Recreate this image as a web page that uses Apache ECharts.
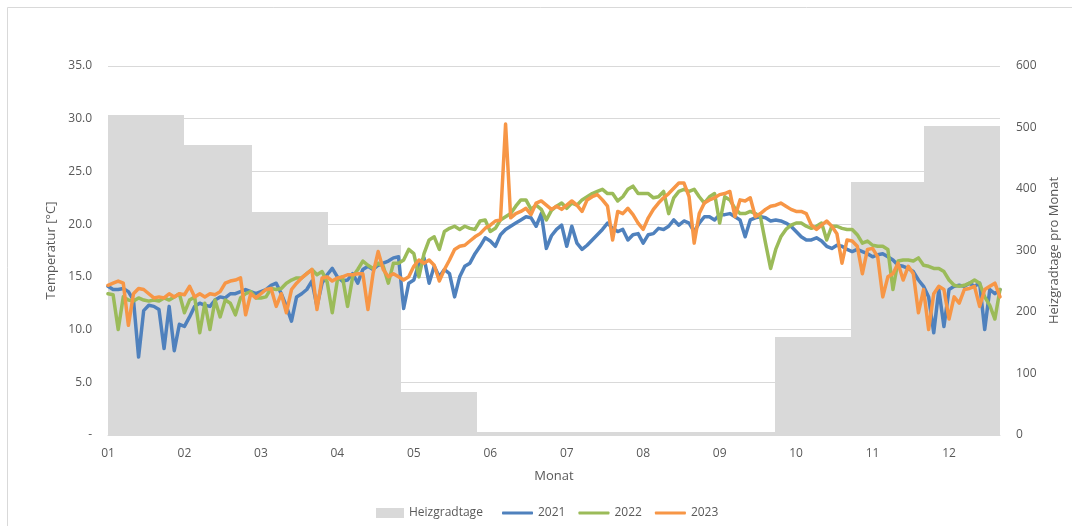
<!DOCTYPE html>
<html>
<head>
<meta charset="utf-8">
<script src="https://cdn.jsdelivr.net/npm/echarts@6/dist/echarts.min.js"></script>
<style>
html, body { margin: 0; padding: 0; background: #fff; }
#chart { width: 1072px; height: 526px; }
</style>
</head>
<body>
<div id="chart"></div>
<script>
// month labels and days per month (bars span their month on a day axis)
const months = ['01', '02', '03', '04', '05', '06', '07', '08', '09', '10', '11', '12']
const monthDays = [31, 28, 31, 30, 31, 30, 31, 31, 30, 31, 30, 31]
const heizgradtage = [520, 472, 363, 309, 70, 5, 5, 5, 5, 159, 411, 502]

// daily mean temperatures, one value every 2 days (15 per month)
const t2021 = [
  14.1, 13.8, 13.8, 13.9, 13.6, 12.8, 7.4, 11.8, 12.3, 12.2, 11.9, 8.2, 12.2, 8.0, 10.5,
  10.3, 11.2, 12.2, 12.5, 12.3, 12.2, 12.8, 13.1, 13.0, 13.4, 13.4, 13.6, 13.8, 13.6, 13.4,
  13.6, 13.8, 14.2, 14.4, 13.4, 12.2, 10.8, 13.1, 13.4, 13.8, 14.6, 12.2, 14.4, 15.2, 15.8,
  15.0, 14.6, 14.7, 15.3, 14.4, 15.7, 16.0, 15.7, 16.1, 16.3, 16.5, 16.8, 16.9, 12.0, 14.4,
  14.7, 16.3, 16.8, 14.4, 16.0, 15.0, 15.7, 15.3, 13.1, 15.0, 16.0, 16.3, 17.2, 17.9, 18.7,
  18.4, 17.9, 19.0, 19.5, 19.8, 20.1, 20.4, 20.7, 20.6, 19.8, 21.0, 17.7, 18.9, 19.5, 19.9,
  17.9, 19.8, 18.2, 17.6, 18.0, 18.5, 19.0, 19.5, 20.1, 19.6, 19.3, 19.5, 18.5, 19.0, 19.1,
  18.2, 19.0, 19.1, 19.6, 19.5, 19.8, 20.4, 19.9, 20.3, 20.1, 19.3, 20.1, 20.7, 20.7, 20.4,
  20.9, 20.9, 21.0, 20.7, 20.4, 18.8, 20.4, 20.6, 20.7, 20.6, 20.3, 20.4, 20.3, 20.1, 19.8,
  19.3, 18.8, 18.5, 18.5, 18.7, 18.4, 17.9, 17.7, 18.0, 17.9, 17.6, 17.4, 17.6, 17.4, 17.2,
  16.9, 17.1, 17.2, 16.9, 16.6, 16.1, 16.0, 15.8, 15.5, 14.7, 14.1, 13.1, 9.7, 13.8, 10.3,
  13.8, 14.1, 14.2, 14.1, 14.4, 14.1, 14.4, 10.0, 13.8, 13.4, 13.8
]
const t2022 = [
  13.4, 13.3, 10.0, 13.1, 12.8, 12.7, 13.0, 12.8, 12.7, 12.8, 12.7, 13.0, 12.8, 13.1, 13.4,
  11.6, 12.8, 13.1, 9.7, 12.5, 10.0, 12.8, 11.2, 12.8, 12.5, 11.4, 13.0, 13.4, 13.6, 13.0,
  13.0, 13.1, 13.9, 13.8, 13.9, 14.4, 14.7, 14.9, 14.9, 15.3, 15.7, 15.2, 15.5, 14.5, 11.6,
  14.7, 15.0, 12.2, 15.0, 15.7, 16.5, 16.1, 15.8, 16.3, 16.0, 14.4, 16.3, 16.3, 16.6, 17.6,
  17.2, 15.0, 17.2, 18.5, 18.8, 17.6, 19.3, 19.6, 19.8, 19.5, 19.8, 19.6, 19.5, 20.3, 20.4,
  19.3, 19.6, 20.4, 20.7, 21.0, 21.7, 22.3, 22.3, 21.4, 21.8, 21.4, 20.4, 21.3, 21.7, 22.0,
  21.5, 22.0, 21.8, 22.3, 22.6, 22.9, 23.1, 23.3, 22.9, 22.9, 22.2, 22.6, 23.3, 23.6, 22.9,
  22.9, 22.9, 22.5, 22.6, 23.1, 21.0, 22.5, 23.1, 23.3, 23.1, 23.3, 22.6, 22.0, 22.6, 22.9,
  20.1, 22.6, 22.3, 21.5, 21.0, 21.0, 21.2, 21.0, 20.7, 18.2, 15.8, 17.6, 18.8, 19.5, 19.9,
  20.1, 20.1, 19.8, 19.6, 19.8, 20.1, 18.5, 19.8, 19.8, 19.6, 19.5, 19.5, 19.0, 18.2, 18.4,
  18.0, 17.9, 17.9, 17.6, 13.8, 16.5, 16.6, 16.6, 16.5, 16.8, 16.1, 16.0, 15.8, 15.8, 15.5,
  14.7, 14.2, 14.1, 14.2, 14.4, 14.7, 14.4, 13.1, 12.3, 11.0, 13.8
]
const t2023 = [
  14.2, 14.4, 14.6, 14.4, 10.4, 13.4, 13.9, 13.8, 13.4, 13.0, 13.1, 13.0, 13.4, 13.1, 13.4,
  13.3, 14.1, 13.1, 13.4, 13.1, 13.4, 13.3, 13.6, 14.4, 14.6, 14.7, 14.9, 11.4, 13.4, 13.0,
  13.4, 13.8, 13.9, 12.2, 13.4, 11.6, 13.8, 14.4, 14.9, 15.3, 15.7, 11.9, 14.9, 15.0, 14.6,
  14.9, 15.0, 15.2, 15.2, 15.3, 15.3, 11.9, 15.3, 17.4, 15.7, 15.0, 15.3, 15.0, 14.7, 15.0,
  16.0, 16.6, 16.3, 16.6, 16.1, 14.6, 15.7, 16.6, 17.6, 17.9, 18.0, 18.4, 18.8, 19.1, 19.6,
  19.9, 20.3, 20.4, 29.5, 20.6, 21.0, 21.2, 21.5, 20.9, 22.0, 22.2, 21.8, 21.4, 21.7, 21.4,
  21.8, 22.2, 21.8, 21.2, 22.3, 22.6, 22.8, 22.3, 21.7, 18.5, 21.2, 21.0, 21.5, 20.9, 20.1,
  19.5, 20.6, 21.4, 22.0, 22.5, 22.9, 23.4, 23.9, 23.9, 22.6, 18.2, 21.0, 22.0, 22.3, 22.5,
  22.8, 22.9, 23.1, 20.7, 22.3, 22.2, 22.5, 20.7, 21.0, 21.4, 21.7, 21.8, 22.0, 21.7, 21.4,
  21.2, 21.2, 21.0, 19.9, 19.5, 19.9, 20.3, 19.8, 19.1, 16.3, 18.5, 18.4, 17.9, 15.3, 17.6,
  17.7, 16.9, 13.1, 15.0, 15.3, 16.3, 14.7, 16.0, 15.3, 11.6, 13.8, 10.0, 13.4, 14.1, 13.8,
  11.0, 13.1, 12.5, 13.8, 13.9, 14.1, 12.2, 13.8, 14.1, 14.4, 13.1
]

const step = 1 / 15
const toPoints = arr => arr.map((v, i) => [1 + i * step, v])

let dayStart = 0
const barData = heizgradtage.map((v, k) => {
  const row = [dayStart, dayStart + monthDays[k], v]
  dayStart += monthDays[k]
  return row
})

const textColor = '#595959'
const font = 'Open Sans'
const chart = echarts.init(document.getElementById('chart'), null, { renderer: 'canvas' })

chart.setOption({
  animation: false,
  backgroundColor: '#fff',
  textStyle: { fontFamily: font, color: textColor },
  graphic: [{
    type: 'rect',
    shape: { x: 7.5, y: 7.5, width: 1200, height: 700 },
    style: { fill: 'none', stroke: '#d9d9d9', lineWidth: 1 },
    silent: true,
  }],
  grid: { left: 108, right: 72, top: 66, bottom: 91 },
  legend: [{
    data: [{ name: 'Heizgradtage', icon: 'rect' }],
    left: 376,
    top: 507,
    padding: 0,
    itemWidth: 28,
    itemHeight: 10,
    textStyle: { fontFamily: font, fontSize: 12, color: textColor },
  }, {
    data: ['2021', '2022', '2023'],
    icon: 'roundRect',
    left: 502,
    top: 507,
    padding: 0,
    itemWidth: 31,
    itemHeight: 3,
    itemGap: 13,
    textStyle: { fontFamily: font, fontSize: 12, color: textColor },
  }],
  xAxis: [{
    type: 'value',
    min: 0,
    max: 365,
    position: 'top',
    show: false,
  }, {
    type: 'value',
    min: 1,
    max: 1 + (t2021.length - 1) * step,
    interval: 1,
    position: 'bottom',
    name: 'Monat',
    nameLocation: 'middle',
    nameGap: 35,
    nameTextStyle: { fontFamily: font, fontSize: 13, color: textColor },
    axisLine: { lineStyle: { color: '#d9d9d9' } },
    axisTick: { show: false },
    splitLine: { show: false },
    axisLabel: {
      margin: 13,
      fontFamily: font,
      fontSize: 12,
      color: textColor,
      showMaxLabel: false,
      formatter: v => Number.isInteger(v) ? months[v - 1] : '',
    },
  }],
  yAxis: [{
    type: 'value',
    min: 0,
    max: 35,
    interval: 5,
    name: 'Temperatur [°C]',
    nameLocation: 'middle',
    nameGap: 49,
    nameTextStyle: { fontFamily: font, fontSize: 13, color: textColor },
    axisLine: { show: false },
    axisTick: { show: false },
    splitLine: { lineStyle: { color: '#d9d9d9' } },
    axisLabel: {
      margin: 16,
      fontFamily: font,
      fontSize: 12,
      color: textColor,
      formatter: v => v === 0 ? '-' : v.toFixed(1),
    },
  }, {
    type: 'value',
    min: 0,
    max: 600,
    interval: 100,
    position: 'right',
    name: 'Heizgradtage pro Monat',
    nameLocation: 'middle',
    nameGap: 44,
    nameTextStyle: { fontFamily: font, fontSize: 13, color: textColor },
    axisLine: { show: false },
    axisTick: { show: false },
    splitLine: { show: false },
    axisLabel: { margin: 16, fontFamily: font, fontSize: 12, color: textColor },
  }],
  series: [{
    name: 'Heizgradtage',
    type: 'custom',
    xAxisIndex: 0,
    yAxisIndex: 1,
    itemStyle: { color: '#d9d9d9' },
    encode: { x: [0, 1], y: 2 },
    data: barData,
    renderItem(params, api) {
      const p0 = api.coord([api.value(0), api.value(2)])
      const p1 = api.coord([api.value(1), 0])
      const x0 = Math.round(p0[0])
      const x1 = Math.round(p1[0])
      return {
        type: 'rect',
        shape: { x: x0, y: Math.round(p0[1]), width: x1 - x0, height: Math.round(p1[1]) - Math.round(p0[1]) },
        style: { fill: '#d9d9d9' },
      }
    },
  },
  ...[['2021', t2021, '#4f81bd'], ['2022', t2022, '#9bbb59'], ['2023', t2023, '#f79646']].map(([name, arr, color]) => ({
    name,
    type: 'line',
    xAxisIndex: 1,
    yAxisIndex: 0,
    showSymbol: false,
    symbol: 'none',
    color,
    lineStyle: { width: 3.5, color, join: 'round', cap: 'round' },
    data: toPoints(arr),
    z: 3,
  }))],
})
</script>
</body>
</html>
